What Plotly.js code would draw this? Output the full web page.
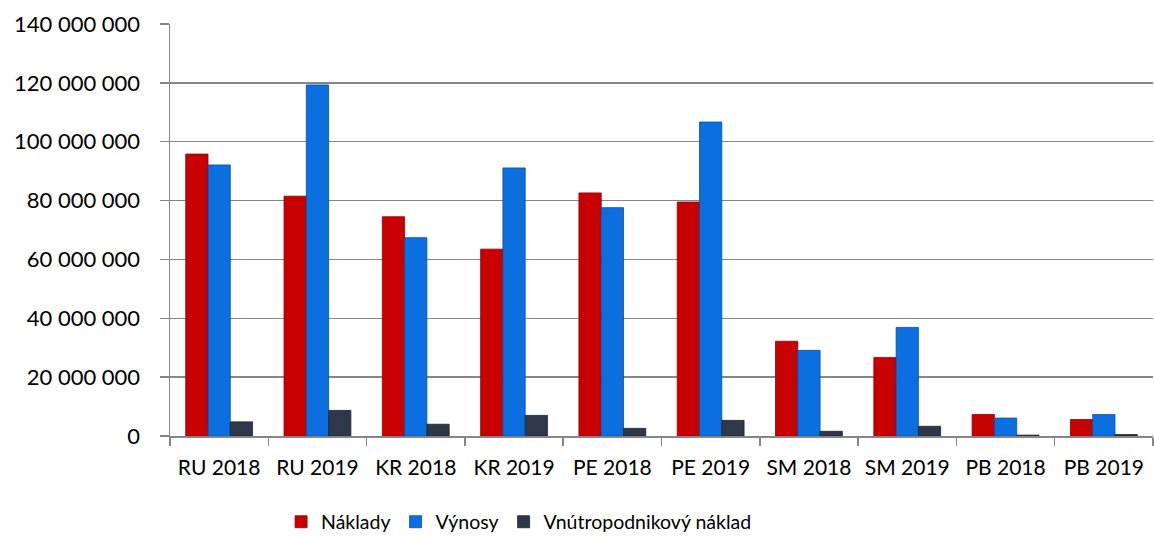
<!DOCTYPE html>
<html>
<head>
<meta charset="utf-8">
<script src="https://cdn.plot.ly/plotly-3.0.1.min.js"></script>
<style>html,body{margin:0;padding:0;background:#fff;}#chart{width:1154px;height:541px;}</style>
</head>
<body>
<div id="chart"></div>
<script>
const categories = ["RU 2018","RU 2019","KR 2018","KR 2019","PE 2018","PE 2019","SM 2018","SM 2019","PB 2018","PB 2019"];
const naklady = [95800000, 81500000, 74500000, 63500000, 82600000, 79500000, 32200000, 26700000, 7300000, 5600000];
const vynosy = [92100000, 119300000, 67400000, 91100000, 77600000, 106700000, 29100000, 36900000, 6100000, 7300000];
const vnutro = [4800000, 8700000, 4000000, 7000000, 2600000, 5300000, 1600000, 3300000, 300000, 500000];
const seriesNames = ["Náklady","Výnosy","Vnútropodnikový náklad"];
const tickVals = [0,20000000,40000000,60000000,80000000,100000000,120000000,140000000];

const colors = ["#C80000","#0B6FE0","#2E3848"];
const lines = ["#8E0000","#0050A8","#1C2330"];
const data = [naklady, vynosy, vnutro].map((vals,i)=>({
  type:"bar", x:categories, y:vals, name:seriesNames[i],
  marker:{color:colors[i], line:{color:lines[i], width:0.8}}
}));

const layout = {
  width:1154, height:541,
  margin:{l:170, r:1, t:24, b:105, autoexpand:false},
  paper_bgcolor:"#fff", plot_bgcolor:"#fff",
  separators:", ",
  barmode:"group", bargap:0.32, bargroupgap:0,
  font:{family:"Lato, sans-serif", size:22, color:"#000"},
  xaxis:{type:"category", showline:true, linecolor:"#868686", linewidth:1.5,
    ticks:"outside", tickson:"boundaries", ticklen:8, tickcolor:"#868686", tickwidth:1.5,
    tickfont:{size:21}, showgrid:false, zeroline:false, fixedrange:true, ticklabelstandoff:12},
  yaxis:{range:[0,140000000], tickvals:tickVals, tickformat:",d",
    showline:true, linecolor:"#868686", linewidth:1.5,
    ticks:"outside", ticklen:9, tickcolor:"#868686", tickwidth:1.5,
    showgrid:true, gridcolor:"#868686", gridwidth:1.5, zeroline:false,
    ticklabelstandoff:15, tickfont:{size:22}, fixedrange:true},
  showlegend:true,
  legend:{orientation:"h", x:0.113, xanchor:"left", yref:"container", y:0.035, yanchor:"middle",
    font:{size:19.5}, itemwidth:30, traceorder:"normal"}
};
Plotly.newPlot("chart", data, layout, {displayModeBar:false, staticPlot:true});
</script>
</body>
</html>
